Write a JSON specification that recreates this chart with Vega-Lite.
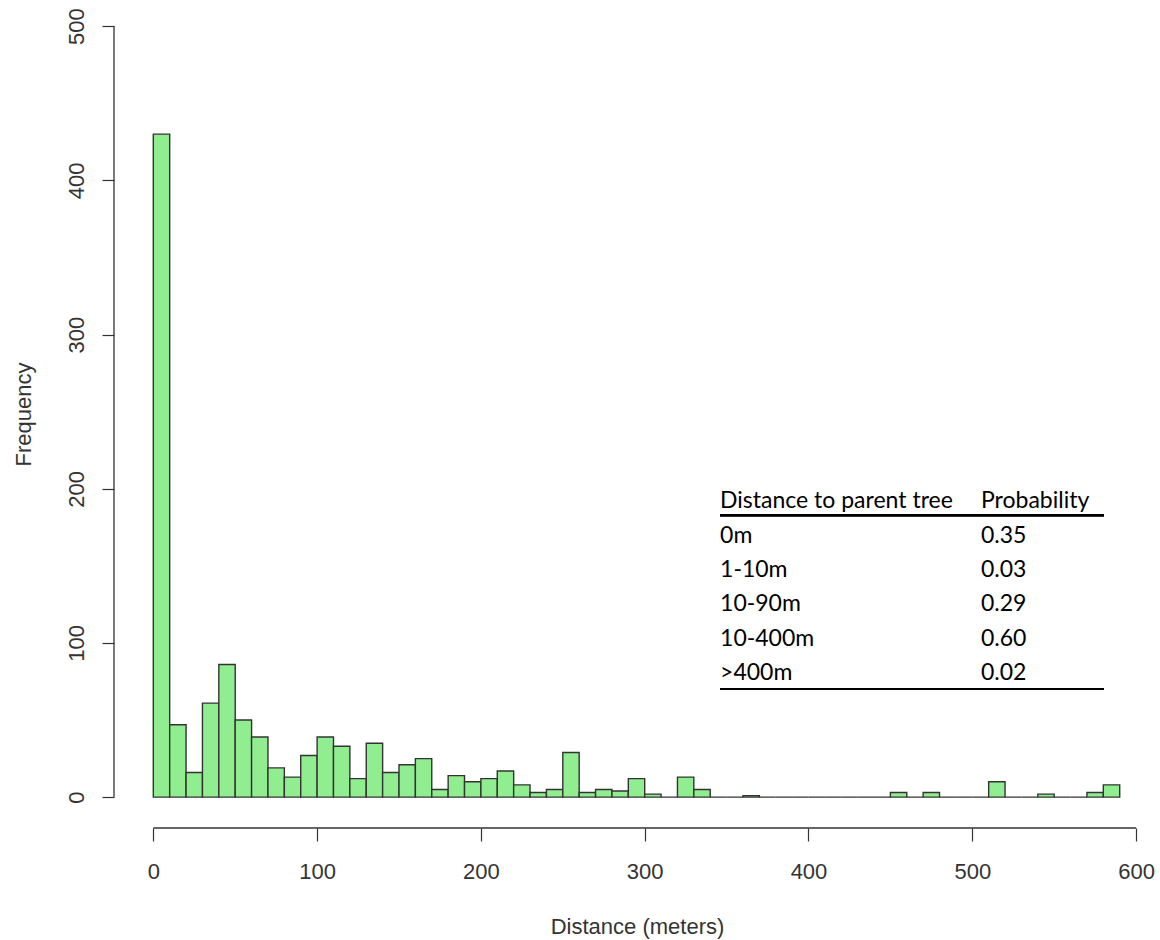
{
  "$schema": "https://vega.github.io/schema/vega-lite/v6.json",
  "autosize": {"type": "none"},
  "padding": {"left": 114, "top": 0, "right": 0, "bottom": 112},
  "width": 1046,
  "height": 828,
  "background": "white",
  "config": {
    "view": {"stroke": null},
    "font": "Liberation Sans"
  },
  "layer": [
    {
      "data": {
        "values": [
          {"bin_start": 0, "bin_end": 10, "count": 430},
          {"bin_start": 10, "bin_end": 20, "count": 47},
          {"bin_start": 20, "bin_end": 30, "count": 16},
          {"bin_start": 30, "bin_end": 40, "count": 61},
          {"bin_start": 40, "bin_end": 50, "count": 86},
          {"bin_start": 50, "bin_end": 60, "count": 50},
          {"bin_start": 60, "bin_end": 70, "count": 39},
          {"bin_start": 70, "bin_end": 80, "count": 19},
          {"bin_start": 80, "bin_end": 90, "count": 13},
          {"bin_start": 90, "bin_end": 100, "count": 27},
          {"bin_start": 100, "bin_end": 110, "count": 39},
          {"bin_start": 110, "bin_end": 120, "count": 33},
          {"bin_start": 120, "bin_end": 130, "count": 12},
          {"bin_start": 130, "bin_end": 140, "count": 35},
          {"bin_start": 140, "bin_end": 150, "count": 16},
          {"bin_start": 150, "bin_end": 160, "count": 21},
          {"bin_start": 160, "bin_end": 170, "count": 25},
          {"bin_start": 170, "bin_end": 180, "count": 5},
          {"bin_start": 180, "bin_end": 190, "count": 14},
          {"bin_start": 190, "bin_end": 200, "count": 10},
          {"bin_start": 200, "bin_end": 210, "count": 12},
          {"bin_start": 210, "bin_end": 220, "count": 17},
          {"bin_start": 220, "bin_end": 230, "count": 8},
          {"bin_start": 230, "bin_end": 240, "count": 3},
          {"bin_start": 240, "bin_end": 250, "count": 5},
          {"bin_start": 250, "bin_end": 260, "count": 29},
          {"bin_start": 260, "bin_end": 270, "count": 3},
          {"bin_start": 270, "bin_end": 280, "count": 5},
          {"bin_start": 280, "bin_end": 290, "count": 4},
          {"bin_start": 290, "bin_end": 300, "count": 12},
          {"bin_start": 300, "bin_end": 310, "count": 2},
          {"bin_start": 310, "bin_end": 320, "count": 0},
          {"bin_start": 320, "bin_end": 330, "count": 13},
          {"bin_start": 330, "bin_end": 340, "count": 5},
          {"bin_start": 340, "bin_end": 350, "count": 0},
          {"bin_start": 350, "bin_end": 360, "count": 0},
          {"bin_start": 360, "bin_end": 370, "count": 1},
          {"bin_start": 370, "bin_end": 380, "count": 0},
          {"bin_start": 380, "bin_end": 390, "count": 0},
          {"bin_start": 390, "bin_end": 400, "count": 0},
          {"bin_start": 400, "bin_end": 410, "count": 0},
          {"bin_start": 410, "bin_end": 420, "count": 0},
          {"bin_start": 420, "bin_end": 430, "count": 0},
          {"bin_start": 430, "bin_end": 440, "count": 0},
          {"bin_start": 440, "bin_end": 450, "count": 0},
          {"bin_start": 450, "bin_end": 460, "count": 3},
          {"bin_start": 460, "bin_end": 470, "count": 0},
          {"bin_start": 470, "bin_end": 480, "count": 3},
          {"bin_start": 480, "bin_end": 490, "count": 0},
          {"bin_start": 490, "bin_end": 500, "count": 0},
          {"bin_start": 500, "bin_end": 510, "count": 0},
          {"bin_start": 510, "bin_end": 520, "count": 10},
          {"bin_start": 520, "bin_end": 530, "count": 0},
          {"bin_start": 530, "bin_end": 540, "count": 0},
          {"bin_start": 540, "bin_end": 550, "count": 2},
          {"bin_start": 550, "bin_end": 560, "count": 0},
          {"bin_start": 560, "bin_end": 570, "count": 0},
          {"bin_start": 570, "bin_end": 580, "count": 3},
          {"bin_start": 580, "bin_end": 590, "count": 8}
        ]
      },
      "layer": [
        {
          "mark": {"type": "rect", "fill": "#90EE90", "stroke": "#333333", "strokeWidth": 1.4},
          "encoding": {
            "x": {
              "field": "bin_start", "type": "quantitative",
              "scale": {"domain": [-24, 614.6], "nice": false, "zero": false},
              "axis": {
                "title": "Distance (meters)",
                "values": [0, 100, 200, 300, 400, 500, 600],
                "domain": false, "grid": false,
                "tickSize": 13, "tickColor": "#333333", "tickWidth": 1.2,
                "labelFontSize": 22, "labelColor": "#333333", "labelPadding": 20,
                "labelFont": "Liberation Sans", "labelFlush": false, "labelOverlap": false,
                "titleFont": "Liberation Sans", "titleFontSize": 22, "titleFontWeight": "normal",
                "titleColor": "#333333", "titlePadding": 34
              }
            },
            "x2": {"field": "bin_end"},
            "y": {
              "field": "count", "type": "quantitative",
              "scale": {"domain": [-20, 517], "nice": false, "zero": false},
              "axis": {
                "title": "Frequency",
                "values": [0, 100, 200, 300, 400, 500],
                "domain": false, "grid": false,
                "tickSize": 12, "tickColor": "#333333", "tickWidth": 1.2,
                "labelFontSize": 22, "labelColor": "#333333", "labelPadding": 19,
                "labelAngle": 270, "labelAlign": "center", "labelBaseline": "alphabetic",
                "labelFont": "Liberation Sans", "labelFlush": false, "labelOverlap": false,
                "titleFont": "Liberation Sans", "titleFontSize": 22, "titleFontWeight": "normal",
                "titleColor": "#333333", "titlePadding": 30
              }
            },
            "y2": {"datum": 0}
          }
        },
        {
          "data": {"values": [{}]},
          "mark": {"type": "rule", "stroke": "#333333", "strokeWidth": 1.3},
          "encoding": {
            "x": {"datum": 0, "type": "quantitative"},
            "x2": {"datum": 600},
            "y": {"datum": -20, "type": "quantitative"}
          }
        },
        {
          "data": {"values": [{}]},
          "mark": {"type": "rule", "stroke": "#333333", "strokeWidth": 1.3},
          "encoding": {
            "x": {"datum": -24, "type": "quantitative"},
            "y": {"datum": 0, "type": "quantitative"},
            "y2": {"datum": 500}
          }
        }
      ]
    },
    {
      "data": {
        "values": [
          {"row": 0, "distance": "Distance to parent tree", "probability": "Probability"},
          {"row": 1, "distance": "0m", "probability": "0.35"},
          {"row": 2, "distance": "1-10m", "probability": "0.03"},
          {"row": 3, "distance": "10-90m", "probability": "0.29"},
          {"row": 4, "distance": "10-400m", "probability": "0.60"},
          {"row": 5, "distance": ">400m", "probability": "0.02"}
        ]
      },
      "layer": [
        {
          "mark": {"type": "text", "font": "Lato", "fontSize": 23, "align": "left", "baseline": "alphabetic", "color": "#000000"},
          "encoding": {
            "x": {"datum": 346, "type": "quantitative", "scale": {"domain": [-24, 614.6], "nice": false, "zero": false}, "axis": null},
            "y": {"field": "row", "type": "quantitative", "scale": {"domain": [-14.82, 9.32], "reverse": true, "nice": false, "zero": false}, "axis": null},
            "text": {"field": "distance"}
          }
        },
        {
          "mark": {"type": "text", "font": "Lato", "fontSize": 23, "align": "left", "baseline": "alphabetic", "color": "#000000"},
          "encoding": {
            "x": {"datum": 505.3, "type": "quantitative"},
            "y": {"field": "row", "type": "quantitative"},
            "text": {"field": "probability"}
          }
        },
        {
          "mark": {"type": "rule", "stroke": "#000000", "strokeWidth": 2},
          "encoding": {
            "x": {"datum": 346, "type": "quantitative"},
            "x2": {"datum": 580.4},
            "y": {"datum": 0.2, "type": "quantitative"}
          }
        },
        {
          "mark": {"type": "rule", "stroke": "#000000", "strokeWidth": 2},
          "encoding": {
            "x": {"datum": 346, "type": "quantitative"},
            "x2": {"datum": 580.4},
            "y": {"datum": 5.27, "type": "quantitative"}
          }
        }
      ]
    }
  ],
  "resolve": {"scale": {"x": "independent", "y": "independent"}}
}
